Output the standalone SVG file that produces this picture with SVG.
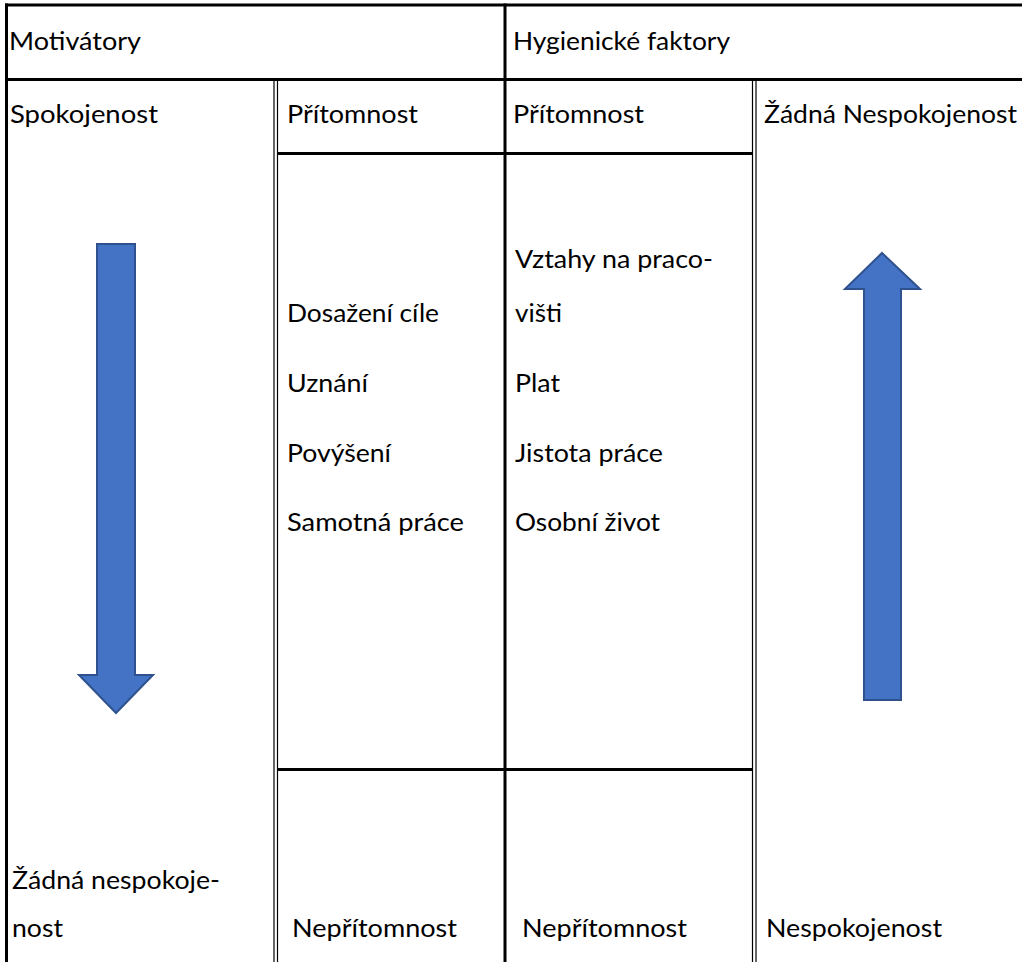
<svg xmlns="http://www.w3.org/2000/svg" width="1022" height="962" viewBox="0 0 1022 962">
<style>
  .t { font-family: Lato, "Liberation Sans", Arial, sans-serif; font-size: 25.8px; fill: #000; }
  .thick { stroke: #000; stroke-width: 3; fill: none; }
  .thin { stroke: #000; stroke-width: 1.2; fill: none; }
  .arrow { fill: #4472C4; stroke: #2F528F; stroke-width: 2; }
</style>
<rect width="1022" height="962" fill="#fff"/>
<g id="grid">
  <line class="thick" x1="5" y1="5" x2="1022" y2="5"/>
  <line class="thick" x1="6.5" y1="3.5" x2="6.5" y2="962"/>
  <line class="thick" x1="5" y1="79.5" x2="1022" y2="79.5"/>
  <line class="thick" x1="505" y1="3.5" x2="505" y2="962"/>
  <line class="thin" x1="274" y1="81" x2="274" y2="962"/>
  <line class="thin" x1="277.5" y1="81" x2="277.5" y2="962"/>
  <line class="thin" x1="752.5" y1="81" x2="752.5" y2="962"/>
  <line class="thin" x1="756" y1="81" x2="756" y2="962"/>
  <line class="thick" x1="277.5" y1="153.5" x2="752.5" y2="153.5"/>
  <line class="thick" x1="277.5" y1="769.5" x2="752.5" y2="769.5"/>
</g>
<g id="header-motivatory"><text class="t" x="9" y="50" textLength="132" lengthAdjust="spacingAndGlyphs">Motivátory</text></g>
<g id="header-hygiena"><text class="t" x="513" y="50" textLength="217" lengthAdjust="spacingAndGlyphs">Hygienické faktory</text></g>
<g id="spokojenost"><text class="t" x="10" y="123" textLength="148" lengthAdjust="spacingAndGlyphs">Spokojenost</text></g>
<g id="pritomnost-1"><text class="t" x="287" y="123" textLength="131" lengthAdjust="spacingAndGlyphs">Přítomnost</text></g>
<g id="pritomnost-2"><text class="t" x="513" y="123" textLength="131" lengthAdjust="spacingAndGlyphs">Přítomnost</text></g>
<g id="zadna-nespokojenost"><text class="t" x="764" y="123" textLength="253" lengthAdjust="spacingAndGlyphs">Žádná Nespokojenost</text></g>
<g id="motivatory-list">
  <text class="t" x="287" y="322" textLength="152" lengthAdjust="spacingAndGlyphs">Dosažení cíle</text>
  <text class="t" x="287" y="392" textLength="81" lengthAdjust="spacingAndGlyphs">Uznání</text>
  <text class="t" x="287" y="462" textLength="104" lengthAdjust="spacingAndGlyphs">Povýšení</text>
  <text class="t" x="287" y="531" textLength="177" lengthAdjust="spacingAndGlyphs">Samotná práce</text>
</g>
<g id="hygiena-list">
  <text class="t" x="515" y="268" textLength="198" lengthAdjust="spacingAndGlyphs">Vztahy na praco-</text>
  <text class="t" x="515" y="322" textLength="47" lengthAdjust="spacingAndGlyphs">višti</text>
  <text class="t" x="515" y="392" textLength="45" lengthAdjust="spacingAndGlyphs">Plat</text>
  <text class="t" x="515" y="462" textLength="148" lengthAdjust="spacingAndGlyphs">Jistota práce</text>
  <text class="t" x="515" y="531" textLength="145" lengthAdjust="spacingAndGlyphs">Osobní život</text>
</g>
<g id="zadna-nespokojenost-2">
  <text class="t" x="12" y="889" textLength="208" lengthAdjust="spacingAndGlyphs">Žádná nespokoje-</text>
  <text class="t" x="12" y="937" textLength="51" lengthAdjust="spacingAndGlyphs">nost</text>
</g>
<g id="nepritomnost-1"><text class="t" x="292" y="937" textLength="165" lengthAdjust="spacingAndGlyphs">Nepřítomnost</text></g>
<g id="nepritomnost-2"><text class="t" x="522" y="937" textLength="165" lengthAdjust="spacingAndGlyphs">Nepřítomnost</text></g>
<g id="nespokojenost"><text class="t" x="766" y="937" textLength="176" lengthAdjust="spacingAndGlyphs">Nespokojenost</text></g>
<g id="arrow-down"><polygon class="arrow" points="97,244 135,244 135,675 153,675 116,713 79,675 97,675"/></g>
<g id="arrow-up"><polygon class="arrow" points="882,253 920,289 901,289 901,700 864,700 864,289 845,289"/></g>
</svg>
